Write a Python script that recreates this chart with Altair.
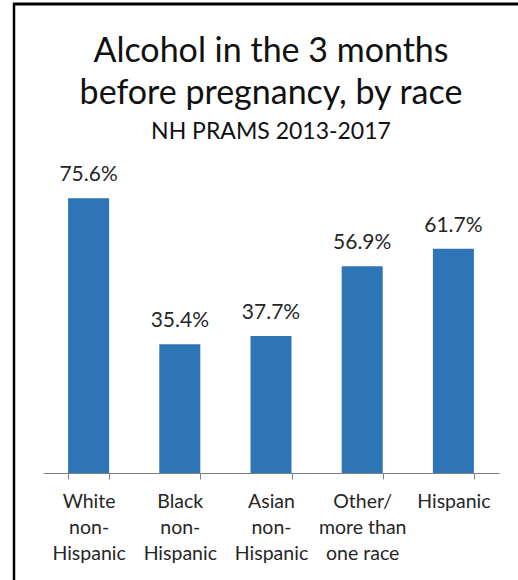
import altair as alt
import pandas as pd

categories = ["White|non-|Hispanic", "Black|non-|Hispanic", "Asian|non-|Hispanic",
              "Other/|more than|one race", "Hispanic"]
values = [75.6, 35.4, 37.7, 56.9, 61.7]
labels = ["75.6%", "35.4%", "37.7%", "56.9%", "61.7%"]

df = pd.DataFrame({"cat": categories, "val": values, "lab": labels})
FONT = "Lato"
TXT = "#262626"

x = alt.X("cat:N", sort=categories, title=None,
          scale=alt.Scale(paddingInner=0.55, paddingOuter=0.275),
          axis=alt.Axis(labelAngle=0, labelExpr="split(datum.label, '|')",
                        labelFont=FONT, labelFontSize=19.5, labelColor=TXT,
                        labelLineHeight=26, labelPadding=13, labelBaseline="top",
                        tickBand="extent", tickSize=6, tickColor="#7f7f7f",
                        domainColor="#7f7f7f", grid=False))
y = alt.Y("val:Q", title=None, scale=alt.Scale(domain=[0, 85], nice=False), axis=None)

bars = alt.Chart(df).mark_bar(color="#2E75B6").encode(x=x, y=y)
text = alt.Chart(df).mark_text(font=FONT, fontSize=21, color=TXT, baseline="alphabetic",
                               dy=-17).encode(x=alt.X("cat:N", sort=categories), y="val:Q",
                                              text="lab:N")

frame_df = pd.DataFrame({"k": [0]})
left_border = alt.Chart(frame_df).mark_rule(color="#000", strokeWidth=2.5).encode(
    x=alt.value(-29), y=alt.value(-161), y2=alt.value(430))
top_border = alt.Chart(frame_df).mark_rule(color="#000", strokeWidth=3).encode(
    x=alt.value(-30), x2=alt.value(480), y=alt.value(-160))

chart = alt.layer(bars, text, left_border, top_border).properties(
    width=456, height=309,
    background="white",
    title=alt.TitleParams(
        text=["Alcohol in the 3 months", "before pregnancy, by race"],
        subtitle="NH PRAMS 2013-2017",
        font=FONT, fontSize=34, fontWeight="normal", color="#111", lineHeight=42,
        subtitleFont=FONT, subtitleFontSize=23, subtitleColor="#111",
        subtitlePadding=10, anchor="middle", offset=-142),
    autosize=alt.AutoSizeParams(type="none"),
    padding={"left": 43, "top": 164, "right": 19, "bottom": 107},
).configure_view(stroke=None)

chart.save("out.html", embed_options={"renderer": "svg", "actions": False})
